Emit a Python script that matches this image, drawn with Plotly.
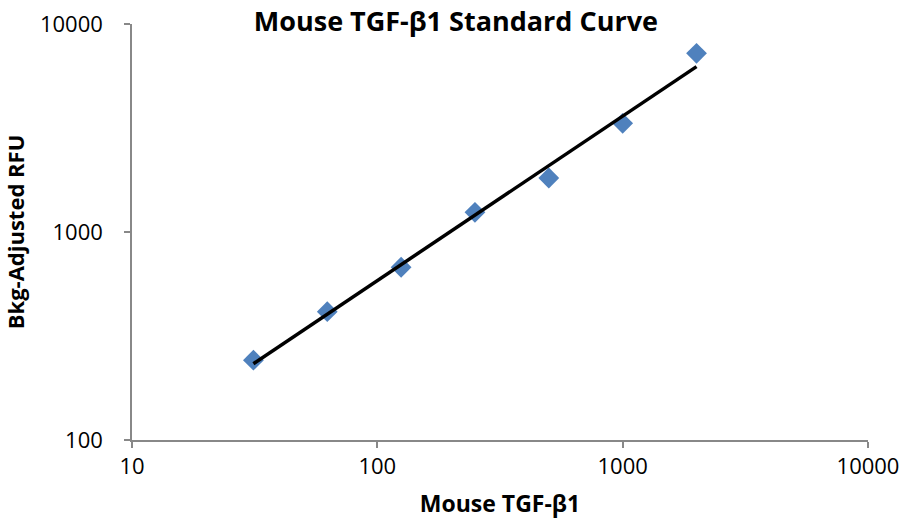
import numpy as np
import plotly.graph_objects as go

# Data
concentration = [31.25, 62.5, 125, 250, 500, 1000, 2000]
rfu = [242, 414, 677, 1243, 1818, 3331, 7228]

x_ticks = [10, 100, 1000, 10000]
y_ticks = [100, 1000, 10000]

# Power trendline (least squares in log-log space)
lx = np.log10(concentration)
ly = np.log10(rfu)
b, a = np.polyfit(lx, ly, 1)
fit_x = [concentration[0], concentration[-1]]
fit_y = [10 ** (a + b * np.log10(v)) for v in fit_x]

fig = go.Figure()
fig.add_trace(go.Scatter(
    x=concentration, y=rfu, mode="markers",
    marker=dict(symbol="diamond", size=16, color="#4F81BD"),
    showlegend=False))
fig.add_trace(go.Scatter(
    x=fit_x, y=fit_y, mode="lines",
    line=dict(color="black", width=3.5), showlegend=False, hoverinfo="skip"))

font_family = "Open Sans, Liberation Sans, sans-serif"
fig.update_layout(
    width=910, height=520,
    margin=dict(l=132, r=42, t=24, b=80, autoexpand=False),
    paper_bgcolor="white", plot_bgcolor="white",
    title=dict(text="<b>Mouse TGF-β1 Standard Curve</b>", x=0.501, xanchor="center",
               y=0.9577, yanchor="middle",
               font=dict(family=font_family, size=27, color="black")),
    font=dict(family=font_family, color="black"),
)
fig.update_xaxes(
    type="log", range=[1, 4], tickvals=x_ticks, ticktext=[str(v) for v in x_ticks],
    showgrid=False, zeroline=False, showline=True, linecolor="#888888", linewidth=1.5,
    ticks="outside", ticklen=6, tickcolor="#888888", tickwidth=1.5,
    automargin=False,
    tickfont=dict(size=22, family=font_family, color="black"),
    title=dict(text="<b>Mouse TGF-β1</b>", font=dict(size=23, family=font_family), standoff=17),
)
fig.update_yaxes(
    type="log", range=[2, 4], tickvals=y_ticks, ticktext=[str(v) for v in y_ticks],
    showgrid=False, zeroline=False, showline=True, linecolor="#888888", linewidth=1.5,
    ticks="outside", ticklen=6, tickcolor="#888888", tickwidth=1.5,
    ticklabelstandoff=17, automargin=False,
    tickfont=dict(size=22, family=font_family, color="black"),
    title=dict(text="<b>Bkg-Adjusted RFU</b>", font=dict(size=22, family=font_family), standoff=11),
)

fig.write_html("out.html", config={"displayModeBar": False},
               post_script="document.body.style.margin='0px';")
